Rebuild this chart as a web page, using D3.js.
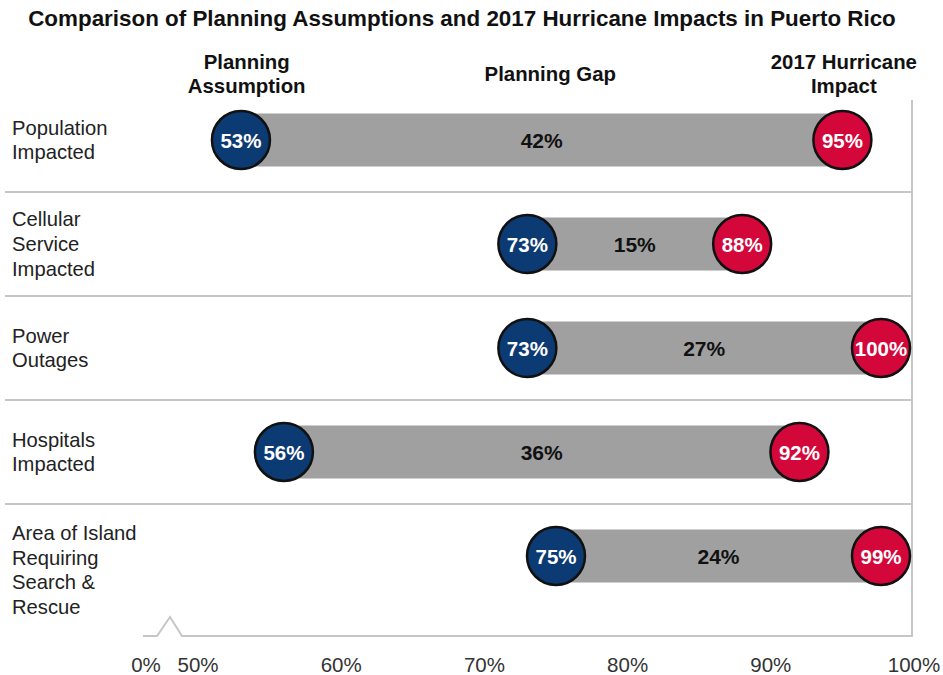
<!DOCTYPE html>
<html>
<head>
<meta charset="utf-8">
<script src="https://cdn.jsdelivr.net/npm/d3@7/dist/d3.min.js"></script>
<style>
  html, body { margin: 0; padding: 0; background: #fff; }
  svg { display: block; font-family: "Liberation Sans", Arial, sans-serif; }
</style>
</head>
<body>
<svg id="chart" width="943" height="675"></svg>
<script>
// Row categories (line breaks mark wrapped label lines)
const categories = [
  "Population\nImpacted",
  "Cellular\nService\nImpacted",
  "Power\nOutages",
  "Hospitals\nImpacted",
  "Area of Island\nRequiring\nSearch &\nRescue"
];
const planningAssumption = [53, 73, 73, 56, 75];
const hurricaneImpact    = [95, 88, 100, 92, 99];
const planningGap        = [42, 15, 27, 36, 24];

const tickValues = [50, 60, 70, 80, 90, 100];
const breakLabel = "0%";
const headers = [
  { lines: ["Planning", "Assumption"], at: 53.4 },
  { lines: ["Planning Gap"], at: 74.6 },
  { lines: ["2017 Hurricane", "Impact"], at: 95.1 }
];
const title = "Comparison of Planning Assumptions and 2017 Hurricane Impacts in Puerto Rico";

const navy = "#0c3a72", red = "#d4073b", barGray = "#a0a0a0", rule = "#c6c6c6";

const svg = d3.select("#chart");

const x = d3.scaleLinear().domain([50, 100]).range([198, 914]);
const y = d3.scaleBand().domain(categories).range([88, 608]);
const axisY = 636;
const r = 29;
const barH = 53;

// Title
svg.append("text")
  .attr("x", 462).attr("y", 26)
  .attr("text-anchor", "middle")
  .attr("font-size", 22.4).attr("font-weight", "bold").attr("fill", "#111")
  .text(title);

// Column headers
headers.forEach(h => {
  const n = h.lines.length;
  const t = svg.append("text")
    .attr("text-anchor", "middle")
    .attr("font-size", 20.4).attr("font-weight", "bold").attr("fill", "#111");
  h.lines.forEach((ln, i) => {
    t.append("tspan")
      .attr("x", x(h.at))
      .attr("y", 81 + (i - (n - 1) / 2) * 24)
      .text(ln);
  });
});

// Row separators
const seps = categories.slice(1);
svg.selectAll("line.sep").data(seps).join("line")
  .attr("class", "sep")
  .attr("x1", 5).attr("x2", x(100) - 2)
  .attr("y1", d => y(d)).attr("y2", d => y(d))
  .attr("stroke", rule).attr("stroke-width", 2);

// Right frame line
svg.append("line")
  .attr("x1", x(100) - 2).attr("x2", x(100) - 2)
  .attr("y1", 100).attr("y2", axisY + 1)
  .attr("stroke", rule).attr("stroke-width", 2);

// Broken baseline axis
const x0 = x(50) - 55;
svg.append("path")
  .attr("d", d3.line()([
    [x0, axisY], [x0 + 14, axisY], [x0 + 27, axisY - 19],
    [x0 + 39, axisY], [x(100) - 2, axisY]
  ]))
  .attr("fill", "none").attr("stroke", rule).attr("stroke-width", 2);

// Tick labels
const tickG = svg.append("g").attr("font-size", 20.5).attr("fill", "#333");
tickG.append("text")
  .attr("x", x0 + 3).attr("y", 672).attr("text-anchor", "middle")
  .text(breakLabel);
tickG.selectAll("text.tick").data(tickValues).join("text")
  .attr("class", "tick")
  .attr("x", d => x(d)).attr("y", 672).attr("text-anchor", "middle")
  .text(d => d + "%");

// Category labels; the last row's label area runs down to the axis
categories.forEach((c, k) => {
  const lines = c.split("\n");
  const last = k === categories.length - 1;
  const cy = last ? (y(c) + axisY) / 2 : y(c) + y.bandwidth() / 2;
  const t = svg.append("text").attr("font-size", 20.2).attr("fill", "#222");
  lines.forEach((ln, i) => {
    t.append("tspan")
      .attr("x", 12)
      .attr("y", cy + (i - (lines.length - 1) / 2) * 24.6 + 7)
      .text(ln);
  });
});

// Circles clamp inside the frame
const cx = v => Math.min(x(v), x(100) - r - 4);

const rows = categories.map((c, i) => ({
  cat: c, lo: planningAssumption[i], hi: hurricaneImpact[i], gap: planningGap[i]
}));

const g = svg.selectAll("g.row").data(rows).join("g").attr("class", "row")
  .attr("transform", d => `translate(0,${y(d.cat) + y.bandwidth() / 2})`);

g.append("rect")
  .attr("x", d => cx(d.lo))
  .attr("width", d => cx(d.hi) - cx(d.lo))
  .attr("y", -barH / 2).attr("height", barH)
  .attr("fill", barGray);

g.append("text")
  .attr("x", d => (cx(d.lo) + cx(d.hi)) / 2)
  .attr("y", 7.5)
  .attr("text-anchor", "middle")
  .attr("font-size", 21).attr("font-weight", "bold").attr("fill", "#111")
  .text(d => d.gap + "%");

[["lo", navy], ["hi", red]].forEach(([k, col]) => {
  g.append("circle")
    .attr("cx", d => cx(d[k])).attr("cy", 0).attr("r", r)
    .attr("fill", col).attr("stroke", "#111").attr("stroke-width", 2.5);
  g.append("text")
    .attr("x", d => cx(d[k])).attr("y", 7.5)
    .attr("text-anchor", "middle")
    .attr("font-size", 20.5).attr("font-weight", "bold").attr("fill", "#fff")
    .text(d => d[k] + "%");
});
</script>
</body>
</html>
